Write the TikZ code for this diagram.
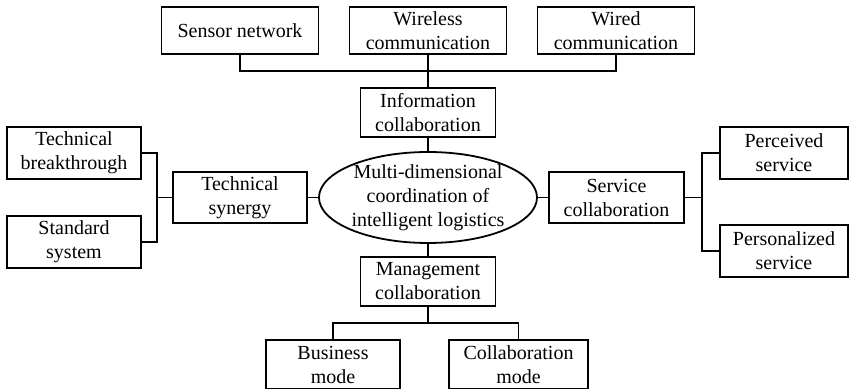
\documentclass[tikz,border=0pt]{standalone}
\usepackage{fontspec}
\setmainfont{Liberation Serif}
\usepackage{tikz}
\usetikzlibrary{positioning}

\tikzset{
  box/.style = {draw, line width=0.9pt, align=center, inner sep=1pt, outer sep=0pt,
                minimum width=67.5pt, minimum height=25pt},
  topbox/.style = {box, minimum width=78.5pt, minimum height=23.5pt},
  sidebox/.style = {box, minimum width=67pt, minimum height=26pt},
  outbox/.style = {box, minimum width=64pt, minimum height=26pt},
  link/.style = {line width=0.9pt}
}

\begin{document}
\begin{tikzpicture}
    \useasboundingbox (-214pt,-95.75pt) rectangle (211.5pt,98.75pt);
    \node (core) [align=center, inner sep=0pt, outer sep=0pt, minimum width=109pt, minimum height=45.5pt] at (0,0)
        {Multi-dimensional\\coordination of\\intelligent logistics};
    \draw [link] (core.center) ellipse [x radius=54.5pt, y radius=22.75pt];
    \node (info) [box, minimum height=24.5pt, above = 7.5pt of core] {Information\\collaboration};
    \node (wireless) [topbox, above = 17pt of info] {Wireless\\communication};
    \node (sensor) [topbox, left = 15.5pt of wireless] {Sensor network};
    \node (wired) [topbox, right = 15.5pt of wireless] {Wired\\communication};
    \node (techsyn) [box, minimum width=67pt, minimum height=25.5pt, left = 6pt of core] {Technical\\synergy};
    \node (breakthrough) [sidebox, left = 16pt of techsyn, yshift=22.25pt] {Technical\\breakthrough};
    \node (standard) [sidebox, left = 16pt of techsyn, yshift=-22.25pt] {Standard\\system};
    \node (service) [box, minimum height=25.5pt, right = 6pt of core] {Service\\collaboration};
    \node (perceived) [outbox, right = 18pt of service, yshift=22.25pt] {Perceived\\service};
    \node (personal) [outbox, right = 18pt of service, yshift=-26.75pt] {Personalized\\service};
    \node (mgmt) [box, minimum height=24.5pt, below = 7pt of core] {Management\\collaboration};
    \node (business) [box, minimum width=67pt, minimum height=24.5pt, below = 17pt of mgmt, xshift=-47.5pt] {Business\\mode};
    \node (collab) [box, minimum width=69.5pt, minimum height=24.5pt, below = 17pt of mgmt, xshift=45.25pt] {Collaboration\\mode};
    \coordinate (topbus) at ([yshift=-8.5pt]wireless.south);
    \coordinate (leftbus) at ([xshift=-8pt]techsyn.west);
    \coordinate (rightbus) at ([xshift=9pt]service.east);
    \coordinate (botbus) at ([yshift=-8.5pt]mgmt.south);
    \draw [link] (sensor.south) |- (topbus) -| (wired.south);
    \draw [link] (wireless.south) -- (info.north);
    \draw [link] (info.south) -- (core.north);
    \draw [link] (breakthrough.east) -| (leftbus) |- (standard.east);
    \draw [link] (techsyn.west) -- (leftbus);
    \draw [link] (techsyn.east) -- (core.west);
    \draw [link] (perceived.west) -| (rightbus) |- (personal.west);
    \draw [link] (service.east) -- (rightbus);
    \draw [link] (core.east) -- (service.west);
    \draw [link] (core.south) -- (mgmt.north);
    \draw [link] (business.north) |- (botbus) -| (collab.north);
    \draw [link] (mgmt.south) -- (botbus);
\end{tikzpicture}
\end{document}
